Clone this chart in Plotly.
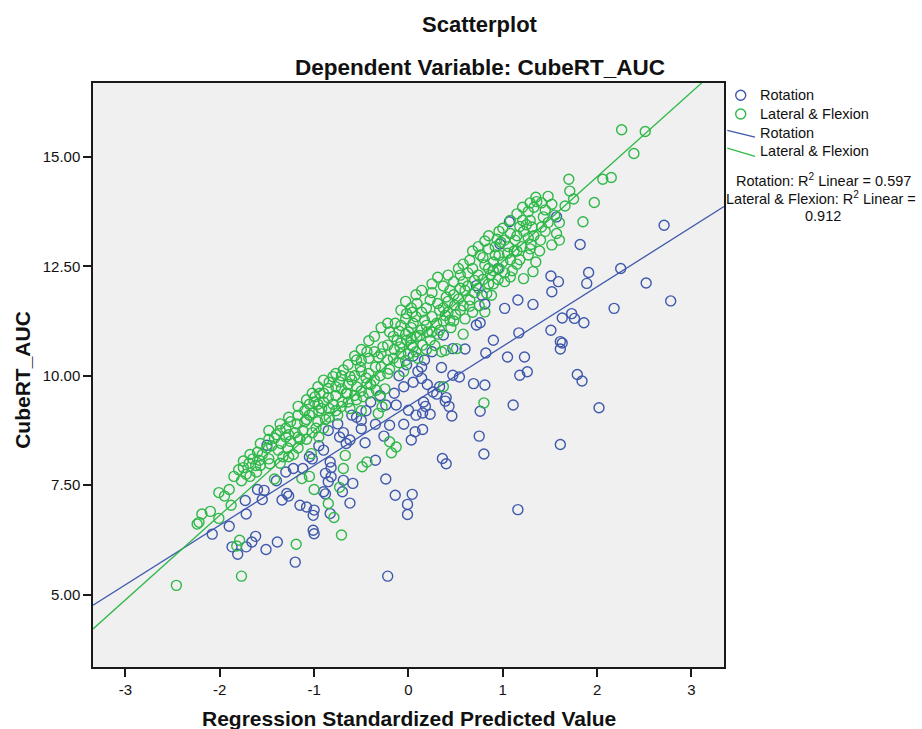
import plotly.graph_objects as go

# Regression standardized predicted value vs. CubeRT_AUC, per movement group
rotation_points = [
    (-1.50, 8.41), (-1.73, 7.15), (-1.72, 6.84), (-1.90, 6.56), (-2.08, 6.38),
    (-1.87, 6.09), (-1.81, 5.92), (-1.72, 6.09), (-1.62, 6.33), (-1.66, 6.20),
    (-1.51, 6.03), (-1.39, 6.20), (-1.53, 7.38), (-1.55, 7.17), (-1.34, 7.16),
    (-1.29, 7.31), (-1.27, 7.25), (-1.20, 5.74), (-1.15, 7.04), (-1.22, 7.88),
    (-0.22, 5.42), (-0.24, 7.64), (-0.14, 7.27), (0.04, 7.29), (-0.01, 7.06),
    (-0.01, 6.83), (-0.35, 8.07), (-0.46, 8.47), (-0.26, 8.62), (-0.20, 8.87),
    (-0.05, 8.89), (0.03, 8.53), (0.07, 8.72), (-0.35, 8.89), (-0.50, 8.79),
    (-0.24, 9.33), (-0.13, 9.33), (0.00, 9.21), (0.08, 9.10), (-0.59, 7.54),
    (-0.62, 7.09), (-0.70, 7.35), (-0.69, 7.61), (-0.82, 7.69), (-0.85, 7.58),
    (-0.90, 7.35), (-0.88, 7.30), (-1.00, 6.93), (-1.08, 7.00), (-1.01, 6.81),
    (-0.83, 6.85), (-1.01, 6.47), (-1.00, 6.39), (-0.83, 8.03), (-0.88, 7.77),
    (-0.82, 7.90), (-0.66, 8.45), (-0.62, 8.53), (-0.73, 8.60), (-0.69, 8.70),
    (-0.50, 8.98), (-0.55, 9.05), (-1.05, 8.15), (-1.12, 7.88), (-1.02, 8.10),
    (-0.95, 8.40), (-0.90, 8.30),
    (1.51, 12.28), (1.52, 11.92), (1.59, 12.15), (1.32, 11.63), (1.16, 11.73),
    (1.02, 11.54), (1.51, 11.04), (1.61, 10.78), (1.61, 10.61), (1.17, 10.98),
    (0.90, 10.81), (0.82, 10.52), (1.05, 10.43), (1.23, 10.43), (1.26, 10.09),
    (1.18, 10.01), (0.81, 9.79), (0.69, 9.82), (0.47, 10.01), (0.54, 9.97),
    (0.60, 10.61), (0.47, 10.62), (0.35, 10.19), (0.37, 10.93), (0.72, 11.16),
    (0.76, 11.21), (0.81, 11.64), (0.78, 11.84), (0.72, 12.06), (0.95, 12.45),
    (0.26, 9.63), (0.33, 9.75), (0.14, 9.94), (0.17, 10.36), (0.14, 10.20),
    (0.30, 9.58), (0.40, 9.50),
    (1.07, 13.52), (0.97, 13.01), (1.57, 13.63), (2.71, 13.44), (1.82, 13.00),
    (1.91, 12.36), (1.89, 12.11), (2.25, 12.45), (2.52, 12.12), (2.78, 11.71),
    (2.18, 11.54), (1.73, 11.42), (1.76, 11.31), (1.63, 11.32), (1.86, 11.21),
    (1.63, 10.75), (1.79, 10.03), (1.84, 9.88), (2.02, 9.27), (1.61, 8.43),
    (1.11, 9.33), (0.76, 9.19), (0.46, 9.08), (0.43, 9.30), (0.23, 9.12),
    (0.15, 9.15), (0.16, 9.40), (0.15, 8.77), (0.18, 9.30), (0.39, 9.42),
    (0.75, 8.62), (0.80, 8.21), (0.36, 8.11), (0.40, 7.99), (1.16, 6.94),
    (-0.40, 9.40), (-0.30, 9.55), (-0.15, 9.60), (-0.05, 9.75), (0.05, 9.85),
    (-0.10, 10.00), (0.10, 10.10), (-0.60, 9.10), (-0.75, 8.90), (-0.45, 9.20),
    (0.20, 9.80), (-0.85, 8.75), (-1.30, 7.80), (-1.40, 7.60), (-1.60, 7.40),
    (0.05, 10.45), (0.25, 10.55), (-0.02, 10.25),
]

lateral_flexion_points = [
    (-2.01, 7.33), (-2.19, 6.84), (-2.24, 6.61), (-2.46, 5.21), (-1.77, 5.42),
    (-1.88, 7.04), (-2.01, 6.74), (-1.79, 6.24), (-1.82, 6.11), (-1.77, 7.60),
    (-1.69, 8.00), (-1.61, 7.80), (-1.58, 8.07), (-1.62, 7.95), (-1.42, 7.64),
    (-1.47, 7.99), (-1.42, 8.57), (-1.19, 6.15),
    (-1.35, 8.45), (-1.30, 8.60), (-1.25, 8.50), (-1.20, 8.70), (-1.38, 8.30),
    (-1.28, 8.35), (-1.22, 8.20), (-1.15, 8.55), (-1.33, 8.15),
    (-0.71, 6.36), (-0.79, 6.76), (-0.85, 7.08), (-1.00, 7.40), (-1.05, 7.70),
    (-0.69, 7.88), (-0.73, 7.45), (-0.49, 7.92), (-0.44, 8.03), (-0.18, 8.24),
    (-0.13, 8.37), (-0.20, 8.49), (-0.67, 8.18), (-1.03, 8.22), (-1.13, 7.65),
    (-0.32, 9.14), (-0.28, 9.29),
    (-1.10, 8.95), (-1.05, 9.10), (-0.98, 8.80), (-0.92, 9.25), (-0.88, 9.00),
    (-0.80, 9.35), (-0.75, 9.10), (-0.70, 9.40), (-0.62, 9.25), (-0.55, 9.45),
    (-0.50, 9.20), (-0.95, 8.60), (-1.12, 8.75), (-0.85, 9.50), (-0.65, 9.60),
    (1.32, 12.38), (1.22, 12.22), (1.08, 12.26), (1.02, 12.15), (1.15, 12.55),
    (1.18, 12.65), (1.27, 12.76), (1.39, 12.85), (0.83, 11.88), (0.88, 11.84),
    (0.81, 11.46), (0.65, 11.59), (0.51, 10.62), (0.35, 10.55), (0.37, 9.75),
    (0.80, 9.38),
    (1.35, 14.08), (1.36, 13.98), (1.52, 13.92), (1.27, 13.75), (1.45, 13.79),
    (1.43, 13.63), (1.55, 13.67), (1.18, 13.41), (1.25, 13.45), (1.31, 13.40),
    (1.00, 13.37), (1.22, 13.30), (0.81, 13.08), (0.94, 13.12), (0.98, 13.05),
    (1.13, 13.10), (1.27, 13.15), (1.52, 12.99), (1.57, 13.25), (1.06, 12.95),
    (0.92, 12.95),
    (2.26, 15.62), (2.51, 15.58), (2.39, 15.08), (1.70, 14.49), (2.06, 14.49),
    (2.15, 14.53), (1.71, 14.22), (1.75, 14.04), (1.66, 13.88), (1.97, 13.96),
    (1.85, 13.52),
    (0.09, 11.65), (-0.02, 11.42), (0.04, 11.45), (-0.14, 11.20), (-0.20, 11.00),
    (-0.10, 11.02), (-0.02, 10.81), (-0.27, 10.66), (-0.32, 10.43), (-0.22, 10.36),
    (-0.44, 10.55), (-0.55, 10.36), (-0.51, 10.20), (-0.69, 10.13), (-0.80, 9.98),
    (-0.73, 9.86), (-0.62, 9.98), (-0.55, 9.75), (-0.44, 9.82), (-0.34, 9.67),
    (-0.94, 9.60), (-0.85, 9.71), (-0.99, 9.52), (-0.66, 9.60), (-0.48, 9.52),
    (-0.30, 9.52), (-0.09, 10.66), (0.09, 10.89), (0.05, 11.20), (-0.12, 10.81),
    (0.23, 10.81), (0.33, 11.04), (0.39, 11.38), (0.49, 11.61), (0.60, 11.95),
    (0.70, 12.18), (0.81, 12.53), (0.92, 12.76), (0.65, 12.64), (0.55, 12.30),
    (0.44, 11.95), (0.23, 11.73), (0.17, 11.27), (0.33, 11.50), (0.44, 11.27),
    (0.55, 11.50), (0.28, 10.69), (0.39, 10.58), (0.12, 10.92), (0.76, 12.76),
    (0.87, 12.30), (0.65, 11.73),
    (-1.85, 7.70), (-1.80, 7.85), (-1.72, 7.75), (-1.65, 8.10), (-1.55, 8.20),
    (-1.50, 8.35), (-1.45, 8.40), (-1.40, 8.65), (-1.30, 8.80), (-1.25, 8.95),
    (-1.18, 8.90), (-1.10, 9.20), (-1.05, 9.35), (-1.00, 9.40), (-0.95, 9.20),
    (-0.90, 9.40), (-1.60, 8.25), (-1.90, 7.40), (-1.95, 7.25), (-2.10, 6.90),
    (-2.22, 6.65),
    (-0.40, 9.80), (-0.30, 10.00), (-0.20, 10.15), (-0.10, 10.30), (0.00, 10.50),
    (0.05, 10.65), (-0.15, 10.60), (-0.35, 10.20), (-0.60, 9.90), (-0.45, 9.95),
    (-0.25, 9.70), (0.10, 10.40), (0.15, 10.70), (0.20, 11.00), (0.00, 11.00),
    (-0.05, 10.10),
    (0.30, 11.20), (0.40, 11.80), (0.50, 11.40), (0.55, 12.00), (0.60, 11.30),
    (0.70, 11.90), (0.75, 11.60), (0.85, 12.10), (0.90, 12.40), (0.95, 12.20),
    (1.00, 12.60), (1.05, 12.80), (1.10, 12.40), (1.12, 12.85), (1.20, 12.95),
    (1.30, 13.00), (1.35, 12.60), (1.40, 13.10), (1.45, 13.30), (0.45, 11.10),
    (0.58, 10.95),
    # dense core of the band
    (-1.75, 7.90), (-1.75, 8.05), (-1.68, 7.70), (-1.68, 8.20), (-1.57, 7.95),
    (-1.57, 8.45), (-1.48, 8.10), (-1.48, 8.55), (-1.48, 8.75), (-1.36, 8.00),
    (-1.36, 8.75), (-1.36, 8.90), (-1.27, 8.15), (-1.27, 8.65), (-1.27, 9.05),
    (-1.17, 8.35), (-1.17, 8.60), (-1.17, 9.10), (-1.17, 9.30), (-1.08, 8.55),
    (-1.08, 9.00), (-1.08, 9.45), (-1.02, 8.70), (-1.02, 9.15), (-1.02, 9.60),
    (-0.96, 8.95), (-0.96, 9.35), (-0.96, 9.75), (-0.90, 8.80), (-0.90, 9.60),
    (-0.90, 9.90), (-0.84, 9.05), (-0.84, 9.25), (-0.84, 9.85), (-0.77, 9.20),
    (-0.77, 9.55), (-0.77, 9.75), (-0.77, 10.05), (-0.71, 9.30), (-0.71, 9.70),
    (-0.71, 10.00), (-0.64, 9.40), (-0.64, 9.80), (-0.64, 10.25), (-0.57, 9.55),
    (-0.57, 10.00), (-0.57, 10.45), (-0.50, 9.65), (-0.50, 10.10), (-0.50, 10.35),
    (-0.50, 10.60), (-0.42, 9.60), (-0.42, 10.05), (-0.42, 10.40), (-0.42, 10.80),
    (-0.36, 9.90), (-0.36, 10.55), (-0.36, 10.90), (-0.29, 10.20), (-0.29, 10.50),
    (-0.29, 11.10), (-0.22, 10.05), (-0.22, 10.70), (-0.22, 11.20), (-0.16, 10.40),
    (-0.16, 10.90), (-0.08, 10.50), (-0.08, 10.75), (-0.08, 11.15), (-0.08, 11.50),
    (-0.03, 10.35), (-0.03, 10.95), (-0.03, 11.30), (-0.03, 11.70), (0.03, 10.70),
    (0.03, 10.85), (0.03, 11.10), (0.03, 11.55), (0.08, 10.55), (0.08, 11.35),
    (0.08, 11.85), (0.14, 11.05), (0.14, 11.45), (0.14, 11.95), (0.19, 10.60),
    (0.19, 11.15), (0.19, 11.55), (0.25, 11.00), (0.25, 11.35), (0.25, 11.90),
    (0.25, 12.10), (0.31, 10.95), (0.31, 11.65), (0.31, 12.25), (0.37, 11.25),
    (0.37, 11.55), (0.37, 12.05), (0.42, 11.45), (0.42, 11.70), (0.42, 12.30),
    (0.48, 11.25), (0.48, 11.85), (0.48, 12.15), (0.53, 11.75), (0.53, 12.45),
    (0.58, 11.60), (0.58, 12.15), (0.58, 12.55), (0.63, 12.05), (0.63, 12.35),
    (0.68, 11.45), (0.68, 12.45), (0.68, 12.85), (0.74, 12.00), (0.74, 12.30),
    (0.74, 12.95), (0.79, 12.20), (0.79, 12.70), (0.85, 12.45), (0.85, 12.90),
    (0.85, 13.20), (0.90, 12.10), (0.90, 12.60), (0.96, 12.45), (0.96, 12.75),
    (0.96, 13.30), (1.02, 12.35), (1.02, 13.10), (1.08, 12.65), (1.08, 13.25),
    (1.08, 13.55), (1.15, 12.85), (1.15, 13.20), (1.15, 13.70), (1.21, 13.55),
    (1.21, 13.85), (1.29, 12.90), (1.29, 13.55), (1.29, 13.95), (1.33, 13.20),
    (1.33, 13.85), (1.41, 13.40), (1.41, 13.95), (1.48, 13.50), (1.48, 14.10),
    (1.60, 13.10), (1.60, 13.50),
]

# Linear fits (intercept, slope) and their R squared
rotation_fit = (9.31, 1.362)
lateral_flexion_fit = (10.68, 1.934)
rotation_r2 = "0.597"
lateral_flexion_r2 = "0.912"

x_ticks = [-3, -2, -1, 0, 1, 2, 3]
x_tick_labels = ["-3", "-2", "-1", "0", "1", "2", "3"]
y_ticks = [5.0, 7.5, 10.0, 12.5, 15.0]
y_tick_labels = ["5.00", "7.50", "10.00", "12.50", "15.00"]
x_range = [-3.344, 3.345]
y_range = [3.344, 16.69]

BLUE = "#3E58AC"
GREEN = "#2EB848"
FONT = "Liberation Sans, Arial, sans-serif"

fig = go.Figure()

for pts, color, name in [(rotation_points, BLUE, "Rotation"),
                         (lateral_flexion_points, GREEN, "Lateral & Flexion")]:
    fig.add_trace(go.Scatter(
        x=[p[0] for p in pts], y=[p[1] for p in pts], mode="markers", name=name,
        marker=dict(symbol="circle-open", size=10, color=color,
                    line=dict(width=1.4, color=color)),
        showlegend=False))

for (b0, b1), color, name in [(rotation_fit, BLUE, "Rotation"),
                              (lateral_flexion_fit, GREEN, "Lateral & Flexion")]:
    fig.add_trace(go.Scatter(
        x=x_range, y=[b0 + b1 * x_range[0], b0 + b1 * x_range[1]],
        mode="lines", name=name, line=dict(color=color, width=1.3),
        showlegend=False))

axis_common = dict(showline=True, linecolor="#1a1a1a", linewidth=1.5, mirror=True,
                   ticks="outside", ticklen=8, tickwidth=1.5, tickcolor="#1a1a1a",
                   showgrid=False, zeroline=False,
                   tickfont=dict(family=FONT, size=15, color="#111"))

fig.update_layout(
    width=922, height=729,
    margin=dict(l=93, r=198, t=83, b=62),
    paper_bgcolor="white", plot_bgcolor="#f0f0f0",
    xaxis=dict(range=x_range, tickvals=x_ticks, ticktext=x_tick_labels, **axis_common),
    yaxis=dict(range=y_range, tickvals=y_ticks, ticktext=y_tick_labels, **axis_common),
)


def px_x(px):
    return (px - 93.3) / 630.7


def px_y(py):
    return (666.7 - py) / 583.7


annotations = [
    dict(text="<b>Scatterplot</b>", x=px_x(480), y=px_y(25), font=dict(size=22)),
    dict(text="<b>Dependent Variable: CubeRT_AUC</b>", x=px_x(480), y=px_y(68),
         font=dict(size=22.5)),
    dict(text="<b>Regression Standardized Predicted Value</b>", x=0.5, y=px_y(718),
         font=dict(size=21)),
    dict(text="<b>CubeRT_AUC</b>", x=px_x(22), y=px_y(380), textangle=-90,
         font=dict(size=21)),
    dict(text="Rotation", x=px_x(758), y=px_y(95.3), xanchor="left", font=dict(size=14.5)),
    dict(text="Lateral & Flexion", x=px_x(758), y=px_y(114), xanchor="left",
         font=dict(size=14.5)),
    dict(text="Rotation", x=px_x(758), y=px_y(133), xanchor="left", font=dict(size=14.5)),
    dict(text="Lateral & Flexion", x=px_x(758), y=px_y(151.3), xanchor="left",
         font=dict(size=14.5)),
    dict(text=f"Rotation: R<sup>2</sup> Linear = {rotation_r2}", x=px_x(823),
         y=px_y(179.7), font=dict(size=14.5)),
    dict(text="Lateral & Flexion: R<sup>2</sup> Linear =", x=px_x(821), y=px_y(198),
         font=dict(size=14.5)),
    dict(text=lateral_flexion_r2, x=px_x(823), y=px_y(216), font=dict(size=14.5)),
]
for a in annotations:
    a.setdefault("xanchor", "center")
    a.update(xref="paper", yref="paper", yanchor="middle", showarrow=False)
    a["font"] = dict(family=FONT, color="#111", **a["font"])
fig.update_layout(annotations=annotations)

shapes = []
for py, color in [(95.3, BLUE), (114, GREEN)]:
    shapes.append(dict(type="circle", xref="paper", yref="paper",
                       xsizemode="pixel", ysizemode="pixel",
                       xanchor=px_x(740.7), yanchor=px_y(py),
                       x0=-5, x1=5, y0=-5, y1=5,
                       line=dict(color=color, width=1.4)))
for (y0, y1), color in [((130.3, 137), BLUE), ((148, 156.3), GREEN)]:
    shapes.append(dict(type="line", xref="paper", yref="paper",
                       x0=px_x(727.3), x1=px_x(755), y0=px_y(y0), y1=px_y(y1),
                       line=dict(color=color, width=1.3)))
fig.update_layout(shapes=shapes)

fig.write_html("out.html")
